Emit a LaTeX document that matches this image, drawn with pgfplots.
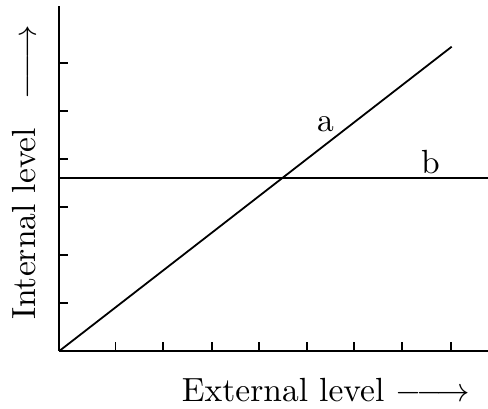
\documentclass[border=0pt]{standalone}
\usepackage{pgfplots}
\pgfplotsset{compat=1.18}

\newcommand{\biglabel}[1]{\scalebox{3.35}{#1}}
\newcommand{\levelarrow}{$\relbar\joinrel\relbar\joinrel\rightarrow$}

\begin{document}
\begin{tikzpicture}
\begin{axis}[
    at={(0,0)}, anchor=origin,
    x=1pt, y=1pt,
    xmin=0, xmax=428.7,
    ymin=0, ymax=345,
    axis x line=bottom,
    axis y line=left,
    axis line style={-, line width=1.8pt},
    tick align=inside,
    major tick length=9pt,
    tick style={line width=1.5pt, black},
    xtick={56.4,103.7,152.7,199.7,247.7,294.7,342.7,391.7},
    ytick={48,96,144,192,240,288},
    xticklabels={}, yticklabels={},
    clip=false,
    font=\fontsize{10}{12}\selectfont,
    xlabel={\biglabel{External level\ \levelarrow}},
    xlabel style={at={(axis cs:122.4,-50.7)}, anchor=base west, inner sep=0pt},
    ylabel={\biglabel{Internal level\hspace{8.5pt}\levelarrow}},
    ylabel style={at={(axis cs:-23.3,31)}, anchor=base west, rotate=0, inner sep=0pt},
]
% line a: proportional
\addplot[black, line width=1.8pt] coordinates {(0,0) (392.4,304.3)};
% line b: constant
\addplot[black, line width=1.8pt] coordinates {(0,173.3) (428.7,173.3)};
\node at (axis cs:266.2,227) {\biglabel{a}};
\node at (axis cs:371.2,188.5) {\biglabel{b}};
\end{axis}
\pgfresetboundingbox
\path (-59.3pt,-58pt) rectangle (428.7pt,351pt);
\end{tikzpicture}
\end{document}
